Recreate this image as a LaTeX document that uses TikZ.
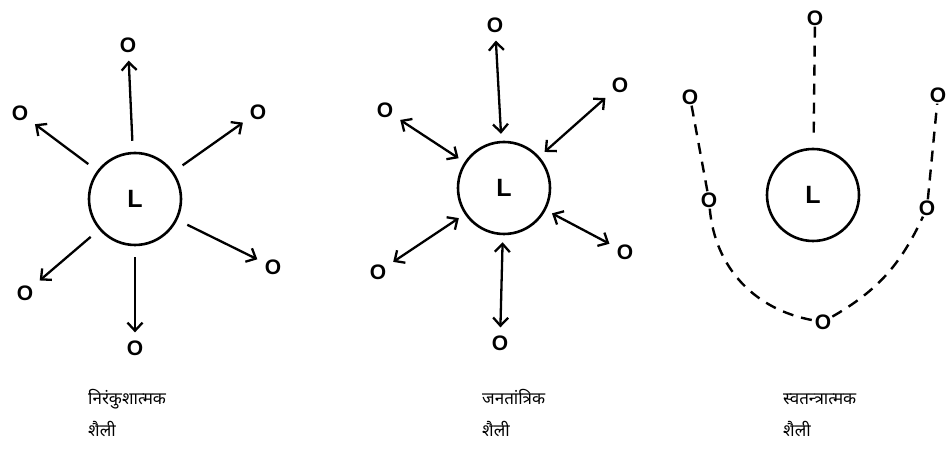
\documentclass[tikz,border=0pt]{standalone}
\usepackage{fontspec}
\setmainfont{Liberation Sans}
\newfontfamily\hindi[Script=Devanagari]{Noto Sans}
\usetikzlibrary{arrows.meta}

\begin{document}
\begin{tikzpicture}[x=1pt,y=1pt,>={Straight Barb[length=8pt,width=15pt]},
    leader/.style={circle,draw,line width=2.6pt,minimum size=92pt,inner sep=0pt,font=\bfseries\fontsize{25}{25}\selectfont},
    member/.style={inner sep=1pt,font=\bfseries\fontsize{21}{21}\selectfont},
    link/.style={line width=2.3pt,shorten <=11pt,shorten >=7pt},
    dashlink/.style={line width=2.4pt,dash pattern=on 11pt off 8pt},
    caption/.style={anchor=north west,align=left,inner sep=0pt,font=\hindi\fontsize{17}{32}\selectfont}]
  \useasboundingbox (0,0) rectangle (951,452);
  \node[leader] (lA) at (135,253) {L};
  \node[member] (oAn) at (128,407) {O};
  \node[member] (oAnw) at (20,339) {O};
  \node[member] (oAne) at (258,340) {O};
  \node[member] (oAse) at (273,185) {O};
  \node[member] (oAsw) at (25,159) {O};
  \node[member] (oAs) at (135,104) {O};
  \foreach \o in {oAn,oAnw,oAne,oAse,oAsw,oAs}
    \draw[->,link] (lA) -- (\o);

  \node[leader] (lB) at (504,264) {L};
  \node[member] (oBn) at (495,427) {O};
  \node[member] (oBne) at (620,367) {O};
  \node[member] (oBnw) at (385,342) {O};
  \node[member] (oBsw) at (378,180) {O};
  \node[member] (oBse) at (625,200) {O};
  \node[member] (oBs) at (500,109) {O};
  \foreach \o in {oBn,oBne,oBnw,oBsw,oBse,oBs}
    \draw[<->,link,shorten <=7pt] (lB) -- (\o);

  \node[leader] (lC) at (813,257) {L};
  \node[member] (oCn) at (815,434) {O};
  \node[member] (oCnw) at (690,355) {O};
  \node[member] (oCw) at (709,252) {O};
  \node[member] (oCs) at (823,130) {O};
  \node[member] (oCe) at (927,244) {O};
  \node[member] (oCne) at (938,357) {O};
  \draw[dashlink,shorten >=8pt] (oCn) -- (lC);
  \draw[dashlink] (oCnw) -- (oCw);
  \draw[dashlink] (oCw) to[out=-85,in=170] (oCs);
  \draw[dashlink] (oCs) to[out=30,in=-115] (oCe);
  \draw[dashlink] (oCe) -- (oCne);

  \node[caption] (capA) at (88,70) {\strut निरंकुशात्मक\\शैली};
  \node[caption] (capB) at (482,70) {\strut जनतांत्रिक\\शैली};
  \node[caption] (capC) at (783,70) {\strut स्वतन्त्रात्मक\\शैली};
\end{tikzpicture}
\end{document}
